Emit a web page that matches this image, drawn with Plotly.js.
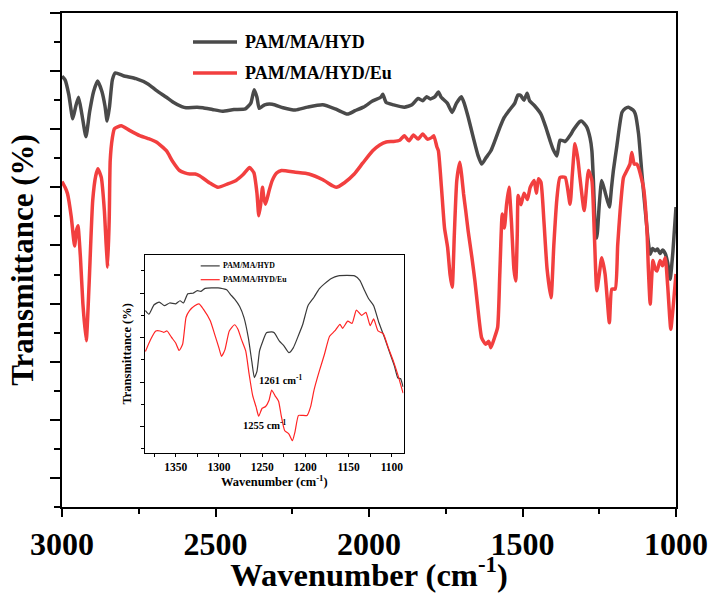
<!DOCTYPE html>
<html>
<head>
<meta charset="utf-8">
<script src="https://cdn.plot.ly/plotly-3.0.1.min.js"></script>
<style>html,body{margin:0;padding:0;background:#fff;}#chart{width:714px;height:593px;}</style>
</head>
<body>
<div id="chart"></div>
<script>
// ---------- DATA ----------
const seriesNames = ['PAM/MA/HYD', 'PAM/MA/HYD/Eu'];

const mainBlackWn = [3000,2990,2978,2965,2955,2946,2935,2922,2910,2897,2884,2870,2860,2853,2845,2836,2826,2800,2759,2720,2693,2660,2639,2610,2596,2560,2541,2510,2478,2440,2403,2385,2374,2365,2358,2351,2340,2315,2280,2240,2200,2151,2110,2070,2045,2018,1990,1962,1955,1944,1920,1885,1860,1840,1825,1812,1800,1785,1774,1765,1759,1745,1729,1715,1699,1690,1677,1660,1645,1633,1620,1603,1590,1573,1560,1544,1525,1515,1506,1495,1485,1477,1460,1440,1425,1410,1400,1388,1378,1366,1361,1343,1334,1314,1307,1291,1280,1274,1269,1262,1258,1250,1242,1230,1217,1210,1204,1193,1176,1165,1155,1140,1133,1122,1111,1100,1090,1084,1076,1068,1060,1052,1044,1035,1027,1019,1010,1000];
const mainBlackT = [69.1,68.5,66,61.8,64,65.5,62.5,58.7,63,66.5,68.3,66.5,64,61.4,64,68.5,69.7,69.2,68.7,67.8,66.7,65.5,64.7,63.9,63.7,63.8,63.7,63.4,63.1,63.4,63.5,64.5,66.8,65.5,63.6,63.8,64.2,64.3,63.7,63.3,63.8,64.2,63.5,62.6,63.2,63.8,64.8,65.5,66.0,64.6,64.2,63.8,64.2,65.3,64.9,65.6,65.2,65.6,66.4,65.5,65.2,64.5,62.9,64.5,65.6,64.5,62.1,58.5,55.5,54.0,55.0,56.3,58.0,60.4,62.0,63.2,64.5,65.9,65.8,65.0,66.2,64.9,64.0,62.6,60.5,58.0,56.5,55.4,58.1,58.0,57.9,59.1,59.9,61.3,61.4,60.4,58.5,56.3,51.1,42,41.3,47,51.2,49,46.6,50,52.9,57,62.9,63.6,63.8,63.3,62.7,59.2,52.3,46.0,40.5,38.5,39.5,39.1,39.4,38.6,39.2,38.6,37,34.2,39,46.6];

const mainRedWn = [3000,2990,2982,2970,2959,2953,2948,2940,2932,2921,2912,2900,2890,2883,2872,2862,2856,2851,2846,2843,2836,2829,2807,2780,2747,2720,2693,2660,2640,2617,2600,2584,2566,2552,2520,2492,2460,2433,2410,2389,2375,2365,2359,2353,2347,2342,2337,2325,2315,2300,2285,2240,2196,2150,2120,2107,2080,2048,2020,1988,1965,1944,1920,1900,1885,1870,1855,1840,1825,1810,1795,1789,1779,1774,1764,1754,1744,1736,1729,1722,1714,1704,1698,1692,1685,1677,1665,1655,1645,1633,1620,1610,1603,1592,1581,1574,1566,1559,1552,1544,1536,1528,1522,1517,1514,1505,1495,1484,1475,1462,1455,1448,1440,1430,1420,1407,1398,1388,1378,1361,1345,1338,1329,1320,1313,1299,1285,1274,1266,1258,1250,1242,1231,1217,1209,1198,1190,1182,1171,1160,1150,1144,1136,1128,1122,1106,1095,1090,1084,1075,1068,1062,1052,1044,1035,1027,1017,1010,1003,1000];
const mainRedT = [51.0,50,48.9,45,39.9,42.5,43.4,38,30,23.6,33,47.7,52,53.2,51.7,46,40,36.3,45,54.6,58.5,60.1,60.6,59.8,58.9,58.4,57.8,56.3,54.5,52.9,52.5,52.3,52.3,52.0,50.8,50.0,50.6,51.2,52.2,53.4,52.5,49,45.1,47,50.0,48,47.1,49.5,51.2,52.5,52.9,52.6,52.3,51.3,50.3,50.0,50.8,52.3,54.2,56.3,57.3,57.8,57.9,58.1,58.9,58.0,59.0,58.3,59.2,58.3,58.6,58.9,57,56.3,50,43,39.7,35,32.8,42,51.2,54.3,52,48.9,46,42.5,38,33.9,29,24.1,23,23.5,22.4,24,25.9,35,45.4,43,47,50.0,44,36,33.9,42,48.6,47,49,47.9,50,51.2,49,51.5,50.9,44,36,31.0,40,48,51.7,51.7,47.1,52,57.5,55,51.7,46.0,52.9,51.2,42,32.2,35,37.9,35.1,26.7,32.5,32.5,40,46.0,51.7,52.9,54,56.0,54,54.0,53.4,50.0,43.1,36,29.9,37.4,36,35.6,37.4,36.5,37.9,33,25.6,29,33.3,35.1];

const insetBlackWn = [1385,1381,1375,1369,1363,1357,1350,1345,1341,1336,1330,1325,1321,1316,1301,1295,1291,1287,1282,1276,1271,1266,1262,1259,1256,1253,1250,1245,1239,1236,1230,1225,1219,1214,1209,1203,1197,1190,1184,1178,1170,1162,1152,1143,1137,1132,1127,1121,1115,1109,1103,1097,1093,1090,1087];
const insetBlackT = [26.1,25.3,27.4,28.0,27.2,27.8,27.6,28.3,27.8,29.9,30.0,30.6,30.4,31.1,31.2,31.0,30.8,29.8,28.7,27.0,24.5,20.0,14.7,11.0,12.4,17.0,18.8,21.1,21.3,21.1,19.2,18.2,16.6,17.7,20.0,23.0,27.2,29.1,31.0,32.1,33.3,33.9,34.0,33.9,32.9,30.8,28.8,27.2,23.4,20.3,16.9,13.6,10.9,10.8,8.9];

const insetRedWn = [1385,1379,1373,1368,1364,1360,1355,1350,1346,1342,1338,1334,1328,1323,1318,1310,1305,1300,1297,1293,1288,1282,1278,1274,1269,1265,1261,1257,1254,1250,1246,1242,1239,1235,1231,1228,1224,1219,1215,1212,1208,1204,1198,1194,1190,1184,1178,1172,1166,1160,1157,1151,1146,1141,1135,1130,1125,1121,1116,1110,1104,1098,1093,1087];
const insetRedT = [16.9,19.6,21.5,21.5,21.2,21.5,20.1,18.8,17.1,18.5,24.6,26.1,27.2,27.6,26.4,23.8,20.8,17.7,15.8,17.3,21.5,22.9,21.9,19.6,17.0,11.7,7.0,4.4,2.3,4.1,4.5,5.9,8.2,6.9,5.7,2.5,-0.9,-1.7,-3.2,-1.2,2.5,2.5,2.5,4.4,8.2,12.4,16.2,20.3,21.5,23.0,22.1,23.7,23.2,26.2,25.0,25.7,22.7,24.2,21.5,20.9,17.7,14.6,11.6,7.5];

const mainXTicks = [3000, 2500, 2000, 1500, 1000];
const insetXTicks = [1350, 1300, 1250, 1200, 1150, 1100];
const peakLabels = ['1261 cm<sup>-1</sup>', '1255 cm<sup>-1</sup>'];

// ---------- STYLE ----------
const FONT = 'Liberation Serif, Times New Roman, serif';
const BLACK = '#4a4a4a', RED = '#f23f3f';
const IBLACK = '#3a3a3a', IRED = '#ff2424';

const traces = [
  {x: mainBlackWn, y: mainBlackT, name: seriesNames[0], type: 'scatter', mode: 'lines',
   line: {color: BLACK, width: 3.5, shape: 'spline', smoothing: 0.5}, xaxis: 'x', yaxis: 'y', showlegend: false},
  {x: mainRedWn, y: mainRedT, name: seriesNames[1], type: 'scatter', mode: 'lines',
   line: {color: RED, width: 3.5, shape: 'spline', smoothing: 0.5}, xaxis: 'x', yaxis: 'y', showlegend: false},
  {x: insetBlackWn, y: insetBlackT, name: seriesNames[0], type: 'scatter', mode: 'lines',
   line: {color: IBLACK, width: 1.2, shape: 'spline', smoothing: 0.5}, xaxis: 'x2', yaxis: 'y2', showlegend: false},
  {x: insetRedWn, y: insetRedT, name: seriesNames[1], type: 'scatter', mode: 'lines',
   line: {color: IRED, width: 1.2, shape: 'spline', smoothing: 0.5}, xaxis: 'x2', yaxis: 'y2', showlegend: false}
];

const bold = (size) => ({family: FONT, size: size, color: '#000', weight: 'bold'});

// legend helpers (paper coords)
const L = 62, T = 13, W = 614, H = 494;
const px = v => (v - L) / W;
const py = v => (T + H - v) / H;

const shapes = [
  {type: 'line', xref: 'paper', yref: 'paper', x0: px(193), x1: px(237), y0: py(42), y1: py(42), line: {color: BLACK, width: 3.5}},
  {type: 'line', xref: 'paper', yref: 'paper', x0: px(193), x1: px(237), y0: py(73), y1: py(73), line: {color: RED, width: 3.5}},
  {type: 'line', xref: 'paper', yref: 'paper', x0: px(200.7), x1: px(219.7), y0: py(265.9), y1: py(265.9), line: {color: IBLACK, width: 1.2}},
  {type: 'line', xref: 'paper', yref: 'paper', x0: px(200.7), x1: px(219.7), y0: py(279.7), y1: py(279.7), line: {color: IRED, width: 1.2}}
];

const annotations = [
  {xref: 'paper', yref: 'paper', x: px(243), y: py(42), xanchor: 'left', yanchor: 'middle', text: seriesNames[0], showarrow: false, font: bold(18)},
  {xref: 'paper', yref: 'paper', x: px(243), y: py(73), xanchor: 'left', yanchor: 'middle', text: seriesNames[1], showarrow: false, font: bold(18)},
  {xref: 'paper', yref: 'paper', x: px(221), y: py(265.9), xanchor: 'left', yanchor: 'middle', text: seriesNames[0], showarrow: false, font: bold(7.8)},
  {xref: 'paper', yref: 'paper', x: px(221), y: py(279.7), xanchor: 'left', yanchor: 'middle', text: seriesNames[1], showarrow: false, font: bold(7.8)},
  {xref: 'x2', yref: 'y2', x: 1256, y: 10.6, xanchor: 'left', yanchor: 'middle', text: peakLabels[0], showarrow: false, font: bold(10.5)},
  {xref: 'x2', yref: 'y2', x: 1274.5, y: 0.4, xanchor: 'left', yanchor: 'middle', text: peakLabels[1], showarrow: false, font: bold(10.5)}
];

const layout = {
  width: 714, height: 593,
  margin: {l: L, r: 714 - L - W, t: T, b: 593 - T - H, pad: 0},
  paper_bgcolor: '#fff', plot_bgcolor: '#fff',
  showlegend: false,
  xaxis: {
    range: [3000, 1000], autorange: false, tickmode: 'array', tickvals: mainXTicks, ticktext: mainXTicks.map(String),
    ticks: 'outside', ticklen: 8, tickwidth: 2, tickcolor: '#000',
    minor: {dtick: 250, tick0: 0, ticks: 'outside', ticklen: 5, tickwidth: 2, tickcolor: '#000'},
    showline: true, linewidth: 2, linecolor: '#000', mirror: true,
    showgrid: false, zeroline: false, tickfont: bold(32),
    title: {text: 'Wavenumber (cm<sup>-1</sup>)', font: bold(32.5), standoff: 6}
  },
  yaxis: {
    range: [-5, 80], autorange: false, dtick: 10, tick0: 0,
    ticks: 'outside', ticklen: 10, tickwidth: 2, tickcolor: '#000',
    minor: {dtick: 5, tick0: 0, ticks: 'outside', ticklen: 6, tickwidth: 2, tickcolor: '#000'},
    showticklabels: false,
    showline: true, linewidth: 2, linecolor: '#000', mirror: true,
    showgrid: false, zeroline: false,
    title: {text: 'Transmittance (%)', font: bold(31), standoff: 7}
  },
  xaxis2: {
    domain: [px(145), px(403.5)], anchor: 'y2',
    range: [1385.5, 1086.5], autorange: false, tickmode: 'array', tickvals: insetXTicks, ticktext: insetXTicks.map(String),
    ticks: 'outside', ticklen: 3, tickwidth: 1, tickcolor: '#000',
    minor: {dtick: 25, tick0: 0, ticks: 'outside', ticklen: 3, tickwidth: 1, tickcolor: '#000'},
    showline: true, linewidth: 1.2, linecolor: '#000', mirror: true,
    showgrid: false, zeroline: false, tickfont: bold(11.5),
    title: {text: 'Wavenumber (cm<sup>-1</sup>)', font: bold(12.5), standoff: 2}
  },
  yaxis2: {
    domain: [py(452.7), py(255)], anchor: 'x2',
    range: [-5.9, 38.6], autorange: false, dtick: 10, tick0: 0,
    ticks: 'outside', ticklen: 4, tickwidth: 1, tickcolor: '#000',
    minor: {dtick: 5, tick0: 0, ticks: 'outside', ticklen: 2.5, tickwidth: 1, tickcolor: '#000'},
    showticklabels: false,
    showline: true, linewidth: 1.2, linecolor: '#000', mirror: true,
    showgrid: false, zeroline: false,
    title: {text: 'Transmittance (%)', font: bold(12.5), standoff: 5}
  },
  shapes: shapes,
  annotations: annotations
};

Plotly.newPlot('chart', traces, layout, {staticPlot: true, displayModeBar: false});
</script>
</body>
</html>
